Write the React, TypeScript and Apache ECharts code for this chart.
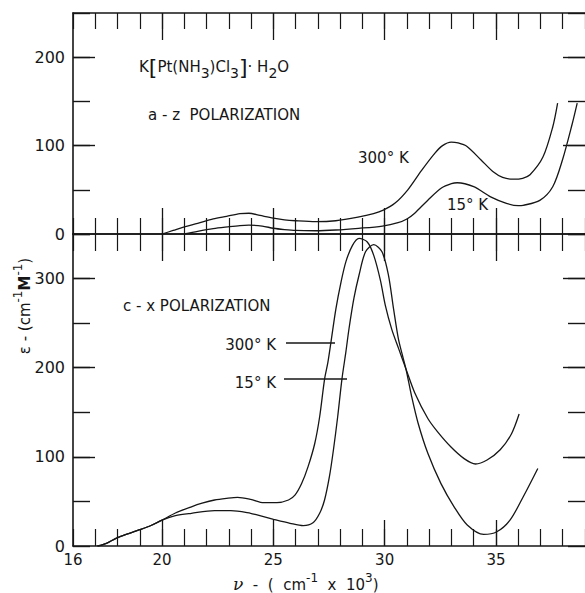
import React, { useEffect, useRef } from "react";
import * as echarts from "echarts";

// ---- data (wavenumber in 10^3 cm^-1, epsilon in cm^-1 M^-1) ----
const xTickLabels = [16, 20, 25, 30, 35];
const xMajorTicks = [20, 25, 30, 35];
const topYLabels = [0, 100, 200];
const topYMajor = [100, 200];
const bottomYLabels = [0, 100, 200, 300];
const bottomYMajor = [100, 200, 300];

// a-z polarization, 300 K
const az300: [number, number][] = [
  [20.0, 0], [20.5, 4], [21.0, 8], [21.6, 12], [22.3, 17], [22.9, 20], [23.5, 23], [23.9, 23.5],
  [24.4, 21], [25.0, 18], [25.5, 16], [26.0, 15], [26.9, 14], [27.8, 15], [28.8, 19], [29.5, 23],
  [29.94, 27], [30.47, 35], [31.04, 50], [31.66, 72], [32.24, 91], [32.6, 100], [32.99, 104],
  [33.3, 103], [33.7, 99], [34.32, 84], [34.89, 70], [35.3, 64], [35.78, 62], [36.2, 63],
  [36.53, 67], [37.11, 87], [37.55, 121], [37.77, 148],
];
// a-z polarization, 15 K
const az15: [number, number][] = [
  [21.0, 0], [21.6, 3], [22.3, 6], [22.95, 8], [23.5, 9.5], [23.9, 10], [24.5, 9], [25.0, 6.5],
  [25.5, 5], [26.0, 4], [26.9, 3.7], [27.8, 4.5], [28.83, 6.4], [29.9, 9], [30.6, 12.8],
  [31.0, 17], [31.35, 23.5], [31.93, 38], [32.55, 52], [33.0, 57], [33.26, 58], [34.0, 53.5],
  [34.76, 42], [35.47, 34.7], [36.0, 32], [36.22, 32.4], [36.97, 38], [37.55, 53.5],
  [37.99, 84], [38.43, 125], [38.65, 148],
];
// c-x polarization, 300 K
const cx300: [number, number][] = [
  [17.1, 0], [17.5, 3], [17.93, 8.6], [18.5, 14], [18.96, 18], [19.5, 23], [20.0, 29], [20.6, 37],
  [21.32, 44], [21.8, 48], [22.36, 51.6], [22.9, 53.5], [23.39, 54.6], [23.98, 52.4],
  [24.57, 48.6], [25.16, 48.6], [25.68, 51.6], [25.97, 57], [26.27, 70], [26.56, 89],
  [26.86, 115], [27.08, 145], [27.3, 187], [27.45, 206], [27.59, 229], [27.81, 266],
  [28.04, 296], [28.26, 319], [28.55, 337], [28.85, 345], [29.22, 341], [29.51, 326],
  [29.81, 298], [30.03, 270], [30.32, 243], [30.62, 222], [30.98, 197], [31.35, 172],
  [31.94, 143], [32.38, 128], [32.98, 111], [33.57, 98], [34.08, 92], [34.6, 96.5],
  [35.19, 108], [35.7, 126], [36.04, 148],
];
// c-x polarization, 15 K
const cx15: [number, number][] = [
  [17.1, 0], [17.5, 3], [17.93, 8.6], [18.5, 14], [18.96, 18], [19.5, 23], [20.0, 29],
  [20.6, 34], [21.32, 36.7], [22.36, 39.6], [23.09, 39.6], [23.98, 36.7], [24.27, 34.8],
  [25.01, 30], [25.75, 25.5], [26.34, 22.8], [26.78, 26], [27.08, 36.7], [27.3, 51.6],
  [27.52, 78], [27.7, 108], [27.89, 145], [28.08, 187], [28.26, 218], [28.4, 244],
  [28.62, 278], [28.85, 304], [29.14, 330], [29.51, 338], [29.88, 330], [30.17, 304],
  [30.4, 266], [30.62, 232], [30.84, 210], [30.98, 196], [31.21, 168], [31.5, 138],
  [31.94, 104], [32.53, 70], [33.12, 44], [33.71, 23.6], [34.45, 13], [35.04, 16],
  [35.63, 29], [36.22, 55], [36.88, 87],
];

const INK = "#161616";
const FONT = "DejaVu Sans";

function xAx(gridIndex: number, position: string, length: number, major: boolean, line: boolean, labels?: number[]) {
  return {
    type: "value",
    gridIndex,
    position,
    min: 16,
    max: 39,
    interval: 1,
    axisLine: { show: line, onZero: false, lineStyle: { color: INK, width: 1.6 } },
    axisTick: major
      ? { show: true, inside: true, length, customValues: xMajorTicks, lineStyle: { color: INK, width: 1.3 } }
      : { show: true, inside: true, length, lineStyle: { color: INK, width: 1.2 } },
    axisLabel: labels
      ? { show: true, customValues: labels, fontFamily: FONT, fontSize: 15, color: INK, margin: 6 }
      : { show: false },
    splitLine: { show: false },
  };
}

function yAx(gridIndex: number, position: string, max: number, length: number, major: number[] | null, line: boolean, labels?: number[]) {
  return {
    type: "value",
    gridIndex,
    position,
    min: 0,
    max,
    interval: 50,
    axisLine: { show: line, onZero: false, lineStyle: { color: INK, width: 1.6 } },
    axisTick: major
      ? { show: true, inside: true, length, customValues: major, lineStyle: { color: INK, width: 1.4 } }
      : { show: true, inside: true, length, lineStyle: { color: INK, width: 1.4 } },
    axisLabel: labels
      ? { show: true, customValues: labels, fontFamily: FONT, fontSize: 16, color: INK, margin: 8 }
      : { show: false },
    splitLine: { show: false },
  };
}

function curve(name: string, data: [number, number][], gi: number, yi: number) {
  return {
    name,
    type: "line",
    xAxisIndex: gi,
    yAxisIndex: yi,
    data,
    showSymbol: false,
    smooth: 0.3,
    lineStyle: { color: INK, width: 1.3 },
    silent: true,
  };
}

function txt(x: number, y: number, text: string, rich?: any, align: string = "left") {
  return {
    type: "text",
    x,
    y,
    silent: true,
    style: {
      text,
      fontFamily: FONT,
      fontSize: 15,
      fill: INK,
      align,
      verticalAlign: "middle",
      textAlign: align,
      textVerticalAlign: "middle",
      rich,
    },
  };
}

export default function App() {
  const ref = useRef<HTMLDivElement>(null);
  useEffect(() => {
    if (!ref.current) return;
    const chart = echarts.init(ref.current, null, { renderer: "svg" });
    const formulaRich = {
      b: { fontFamily: FONT, fontSize: 15, lineHeight: 26, verticalAlign: "middle", fill: INK, color: INK },
      s: { fontFamily: FONT, fontSize: 14, lineHeight: 14, verticalAlign: "bottom", fill: INK, color: INK },
      br: { fontFamily: FONT, fontSize: 22, lineHeight: 26, verticalAlign: "middle", fill: INK, color: INK },
    };
    const supRich = {
      b: { fontFamily: FONT, fontSize: 15, lineHeight: 20, verticalAlign: "bottom", fill: INK, color: INK },
      nu: { fontFamily: "DejaVu Serif", fontStyle: "italic", fontSize: 17, lineHeight: 20, verticalAlign: "bottom", fill: INK, color: INK },
      m: { fontFamily: FONT, fontSize: 15, fontWeight: "bold", lineHeight: 20, verticalAlign: "bottom", fill: INK, color: INK },
      s: { fontFamily: FONT, fontSize: 12, lineHeight: 12, verticalAlign: "top", fill: INK, color: INK },
    };
    chart.setOption({
      animation: false,
      backgroundColor: "#ffffff",
      grid: [
        { left: 73, top: 13, width: 520, height: 221 },
        { left: 73, top: 234, width: 520, height: 312 },
      ],
      xAxis: [
        xAx(0, "bottom", 16, false, true),
        xAx(0, "bottom", 26, true, false),
        xAx(0, "top", 16, false, true),
        xAx(0, "top", 27, true, false),
        xAx(1, "top", 17, false, true),
        xAx(1, "top", 27, true, false),
        xAx(1, "bottom", 17, false, true),
        xAx(1, "bottom", 26, true, false, xTickLabels),
      ],
      yAxis: [
        yAx(0, "left", 250, 22, topYMajor, true, topYLabels),
        yAx(0, "left", 250, 17, null, false),
        yAx(0, "right", 250, 22, topYMajor, false),
        yAx(0, "right", 250, 17, null, false),
        yAx(1, "left", 350, 22, bottomYMajor, true, bottomYLabels),
        yAx(1, "left", 350, 17, null, false),
        yAx(1, "right", 350, 22, bottomYMajor, false),
        yAx(1, "right", 350, 17, null, false),
      ],
      series: [
        curve("a-z 300 K", az300, 0, 0),
        curve("a-z 15 K", az15, 0, 0),
        curve("c-x 300 K", cx300, 7, 4),
        curve("c-x 15 K", cx15, 7, 4),
      ],
      graphic: [
        txt(139, 67, "{b|K}{br|[}{b|Pt(NH}{s|3}{b|)Cl}{s|3}{br|]}{b|· H}{s|2}{b|O}", formulaRich),
        txt(148, 115, "a - z  POLARIZATION"),
        txt(358, 158, "300° K"),
        txt(447, 205, "15° K"),
        txt(123, 306, "c - x POLARIZATION"),
        txt(276, 345, "300° K", undefined, "right"),
        txt(276, 383, "15° K", undefined, "right"),
        {
          type: "line",
          silent: true,
          shape: { x1: 286, y1: 343, x2: 335, y2: 343 },
          style: { stroke: INK, lineWidth: 1.3 },
        },
        {
          type: "line",
          silent: true,
          shape: { x1: 284, y1: 379, x2: 347, y2: 379 },
          style: { stroke: INK, lineWidth: 1.3 },
        },
        txt(233, 582, "{nu|ν}{b|  -  (  cm}{s|-1}{b|  x  10}{s|3}{b|)}", supRich),
        {
          type: "text",
          x: 22,
          y: 306,
          rotation: Math.PI / 2,
          silent: true,
          style: {
            text: "{b|ε - (cm}{s|-1}{m|M}{s|-1}{b|)}",
            rich: supRich,
            align: "center",
            verticalAlign: "middle",
            textAlign: "center",
            textVerticalAlign: "middle",
            fill: INK,
            fontFamily: FONT,
            fontSize: 15,
          },
        },
      ],
    });
    return () => chart.dispose();
  }, []);
  return (
    <div
      ref={ref}
      style={{ position: "absolute", left: 0, top: 0, width: 585, height: 593, overflow: "hidden" }}
    />
  );
}
